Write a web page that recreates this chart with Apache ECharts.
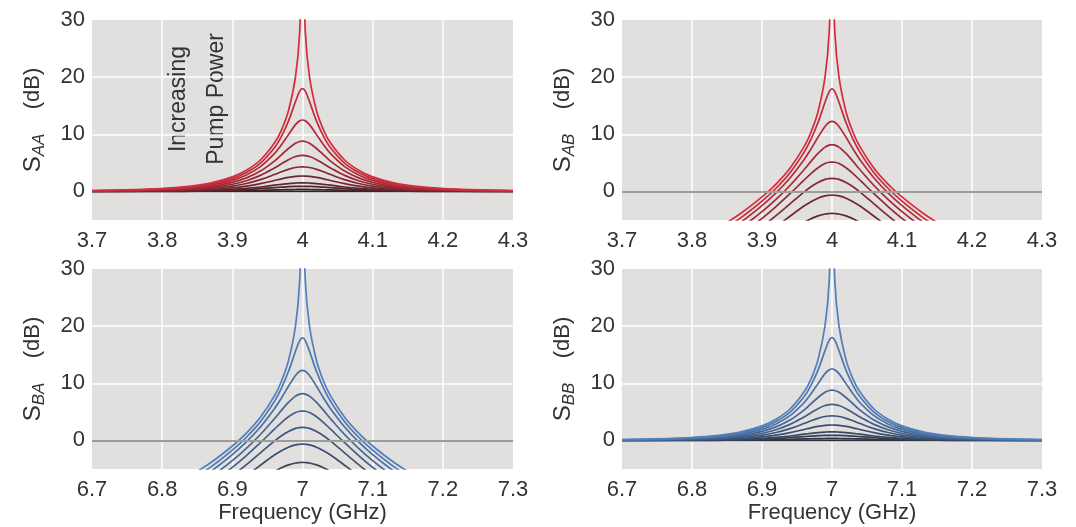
<!DOCTYPE html>
<html>
<head>
<meta charset="utf-8">
<script src="https://cdn.jsdelivr.net/npm/echarts@6/dist/echarts.min.js"></script>
<style>
html, body { margin: 0; padding: 0; background: #fff; }
#chart { width: 1076px; height: 527px; }
</style>
</head>
<body>
<div id="chart"></div>
<script>
// offset from resonance (GHz) for one side of each (symmetric) curve
var detuning = [0, 0.004, 0.01, 0.02, 0.03, 0.04, 0.06, 0.08, 0.1, 0.13, 0.17, 0.22, 0.3];
var centreA = 4.0;
var centreB = 7.0;
var freqRangeA = [3.7, 4.3];
var freqRangeB = [6.7, 7.3];
var gainRange = [-5, 30];

// reflection S_AA / S_BB (dB), one row per pump power, low -> high
var reflGain = [
  [0, 0, 0, 0, 0, 0, 0, 0, 0, 0, 0, 0, 0],
  [0.35, 0.35, 0.34, 0.32, 0.29, 0.26, 0.19, 0.13, 0.09, 0.05, 0.02, 0.01, 0.00],
  [0.90, 0.90, 0.88, 0.83, 0.75, 0.66, 0.48, 0.33, 0.22, 0.12, 0.06, 0.03, 0.01],
  [1.50, 1.50, 1.47, 1.38, 1.24, 1.09, 0.78, 0.53, 0.36, 0.20, 0.10, 0.04, 0.02],
  [2.70, 2.69, 2.64, 2.46, 2.21, 1.92, 1.36, 0.92, 0.62, 0.34, 0.17, 0.08, 0.03],
  [4.30, 4.28, 4.18, 3.87, 3.43, 2.95, 2.06, 1.39, 0.93, 0.52, 0.25, 0.12, 0.04],
  [6.30, 6.27, 6.10, 5.56, 4.85, 4.11, 2.81, 1.88, 1.26, 0.71, 0.35, 0.16, 0.06],
  [8.80, 8.74, 8.43, 7.51, 6.40, 5.31, 3.56, 2.37, 1.59, 0.90, 0.45, 0.21, 0.08],
  [12.50, 12.36, 11.69, 9.94, 8.15, 6.60, 4.33, 2.88, 1.94, 1.11, 0.56, 0.27, 0.10],
  [18.00, 17.54, 15.71, 12.31, 9.65, 7.65, 4.95, 3.30, 2.24, 1.30, 0.67, 0.32, 0.12],
  [45.0, 27.96, 20.03, 14.11, 10.74, 8.46, 5.50, 3.71, 2.55, 1.51, 0.80, 0.39, 0.15]
];

// transmission S_AB / S_BA (dB), only down to just below the plot floor
var transGain = [
  [],
  [],
  [],
  [-3.84, -3.86, -3.95, -4.28, -4.79, -5.45, -7.05],
  [-0.64, -0.67, -0.78, -1.18, -1.79, -2.55, -4.34, -6.25],
  [2.28, 2.25, 2.10, 1.58, 0.81, -0.12, -2.17, -4.24, -6.22],
  [5.14, 5.10, 4.87, 4.15, 3.13, 1.97, -0.40, -2.65, -4.72, -7.51],
  [8.18, 8.11, 7.76, 6.66, 5.26, 3.80, 1.04, -1.39, -3.54, -6.37],
  [12.25, 12.10, 11.38, 9.48, 7.43, 5.53, 2.34, -0.27, -2.49, -5.36, -8.59],
  [17.93, 17.46, 15.60, 12.05, 9.15, 6.83, 3.28, 0.56, -1.71, -4.58, -7.79],
  [45.0, 27.96, 19.99, 13.94, 10.36, 7.79, 4.06, 1.29, -0.97, -3.81, -6.97]
];

var redLow = [46, 36, 38], redHigh = [212, 44, 60];
var blueLow = [44, 46, 54], blueHigh = [78, 128, 190];

function shade(lo, hi, i, n) {
  var t = i / (n - 1);
  return 'rgb(' + [0, 1, 2].map(function (k) {
    return Math.round(lo[k] + (hi[k] - lo[k]) * t);
  }).join(',') + ')';
}

// symmetric curve around centre
function mirror(centre, half) {
  var pts = [];
  for (var i = half.length - 1; i > 0; i--) pts.push([centre - detuning[i], half[i]]);
  for (var j = 0; j < half.length; j++) pts.push([centre + detuning[j], half[j]]);
  return pts;
}

var grids = [
  { left: 92, top: 20, width: 421, height: 200 },
  { left: 622, top: 20, width: 420, height: 200 },
  { left: 92, top: 269, width: 421, height: 200 },
  { left: 622, top: 269, width: 420, height: 200 }
];

var panels = [
  { name: 'AA', centre: centreA, range: freqRangeA, rows: reflGain, lo: redLow, hi: redHigh, zero: false },
  { name: 'AB', centre: centreA, range: freqRangeA, rows: transGain, lo: redLow, hi: redHigh, zero: true },
  { name: 'BA', centre: centreB, range: freqRangeB, rows: transGain, lo: blueLow, hi: blueHigh, zero: true },
  { name: 'BB', centre: centreB, range: freqRangeB, rows: reflGain, lo: blueLow, hi: blueHigh, zero: false }
];

var font = 'Liberation Sans, Arial, sans-serif';
var labelFont = { fontFamily: font, fontSize: 22, color: '#333' };

var xAxes = [], yAxes = [], series = [];
panels.forEach(function (p, g) {
  xAxes.push({
    type: 'value', gridIndex: g,
    min: p.range[0], max: p.range[1], interval: 0.1,
    name: g >= 2 ? 'Frequency (GHz)' : '',
    nameLocation: 'middle', nameGap: 33,
    nameTextStyle: labelFont,
    axisLine: { show: false }, axisTick: { show: false },
    axisLabel: Object.assign({ margin: 10 }, labelFont),
    splitLine: { show: true, showMinLine: false, showMaxLine: false, lineStyle: { color: '#ffffff', width: 1.5 } }
  });
  yAxes.push({
    type: 'value', gridIndex: g,
    min: gainRange[0], max: gainRange[1],
    name: '{s|S}{sub|' + p.name + '}{n|    (dB)}',
    nameLocation: 'middle', nameRotate: 90, nameGap: 44,
    nameTextStyle: {
      rich: {
        s: { fontFamily: font, fontSize: 24, color: '#333', verticalAlign: 'middle', lineHeight: 30 },
        sub: { fontFamily: font, fontSize: 17, fontStyle: 'italic', color: '#333', verticalAlign: 'bottom', lineHeight: 17 },
        n: { fontFamily: font, fontSize: 22, color: '#333', verticalAlign: 'middle', lineHeight: 30 }
      }
    },
    axisLine: { show: false }, axisTick: { show: false },
    axisLabel: Object.assign({ margin: 7, showMinLabel: false }, labelFont),
    splitLine: { show: true, showMinLine: false, showMaxLine: false, lineStyle: { color: '#ffffff', width: 1.5 } }
  });

  var first = true;
  p.rows.forEach(function (row, i) {
    if (!row.length) return;
    var s = {
      type: 'line', xAxisIndex: g, yAxisIndex: g,
      data: mirror(p.centre, row),
      showSymbol: false, smooth: 0.35, clip: true,
      lineStyle: { width: 1.7, color: shade(p.lo, p.hi, i, p.rows.length) },
      silent: true, animation: false
    };
    if (first && p.zero) {
      s.markLine = {
        silent: true, symbol: 'none', label: { show: false },
        lineStyle: { color: '#9c9c9c', width: 2, type: 'solid' },
        data: [{ yAxis: 0 }]
      };
    }
    first = false;
    series.push(s);
  });
});

var chart = echarts.init(document.getElementById('chart'), null, { renderer: 'canvas' });
chart.setOption({
  backgroundColor: '#ffffff',
  animation: false,
  grid: grids.map(function (gr) {
    return Object.assign({ show: true, backgroundColor: '#e2dfdf', borderWidth: 0 }, gr);
  }),
  xAxis: xAxes,
  yAxis: yAxes,
  series: series,
  graphic: [
    { type: 'text', x: 179, y: 99, rotation: Math.PI / 2,
      style: { text: 'Increasing', fontFamily: font, fontSize: 23, fill: '#333', align: 'center', verticalAlign: 'middle' } },
    { type: 'text', x: 217, y: 99, rotation: Math.PI / 2,
      style: { text: 'Pump Power', fontFamily: font, fontSize: 23, fill: '#333', align: 'center', verticalAlign: 'middle' } }
  ]
});
</script>
</body>
</html>
